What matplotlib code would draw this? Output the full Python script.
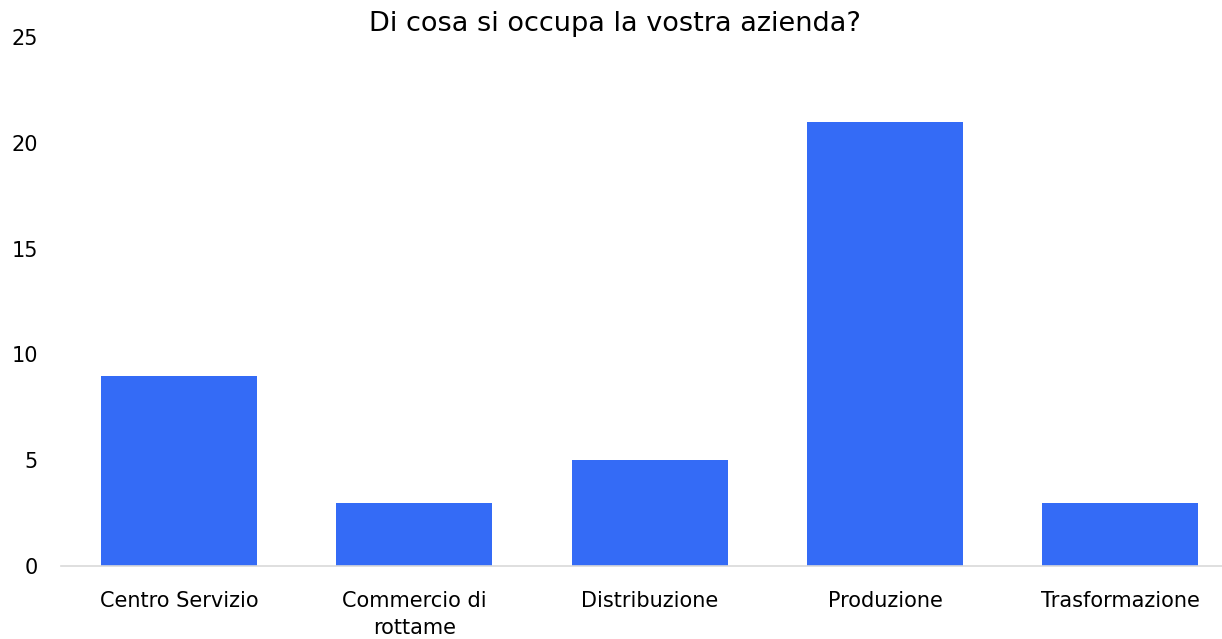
import matplotlib.pyplot as plt

# Risposte al sondaggio
categorie = ['Centro Servizio', 'Commercio di\nrottame', 'Distribuzione', 'Produzione', 'Trasformazione']
risposte = [9, 3, 5, 21, 3]
yticks = [0, 5, 10, 15, 20, 25]

plt.rcParams['font.family'] = ['DejaVu Sans']

fig = plt.figure(figsize=(12.22, 6.39), dpi=100)
ax = fig.add_axes([0.0502, 0.1142, 0.963, 0.828])

x = range(len(categorie))
ax.bar(x, risposte, width=0.663, color='#346BF6')

ax.set_xlim(-0.5, len(categorie) - 0.5)
ax.set_ylim(0, 25)
ax.set_yticks(yticks)
ax.set_xticks(list(x))
ax.set_xticklabels(categorie, fontsize=15, linespacing=1.45)
ax.tick_params(axis='y', length=0, pad=17, labelsize=15)
ax.tick_params(axis='x', length=0, pad=18)

for lato in ['top', 'right', 'left']:
    ax.spines[lato].set_visible(False)
ax.spines['bottom'].set_color('#d9d9d9')
ax.spines['bottom'].set_linewidth(1.2)

fig.text(0.503, 0.962, 'Di cosa si occupa la vostra azienda?', ha='center', va='center', fontsize=19.5)

fig.savefig('out.png', dpi=100)
